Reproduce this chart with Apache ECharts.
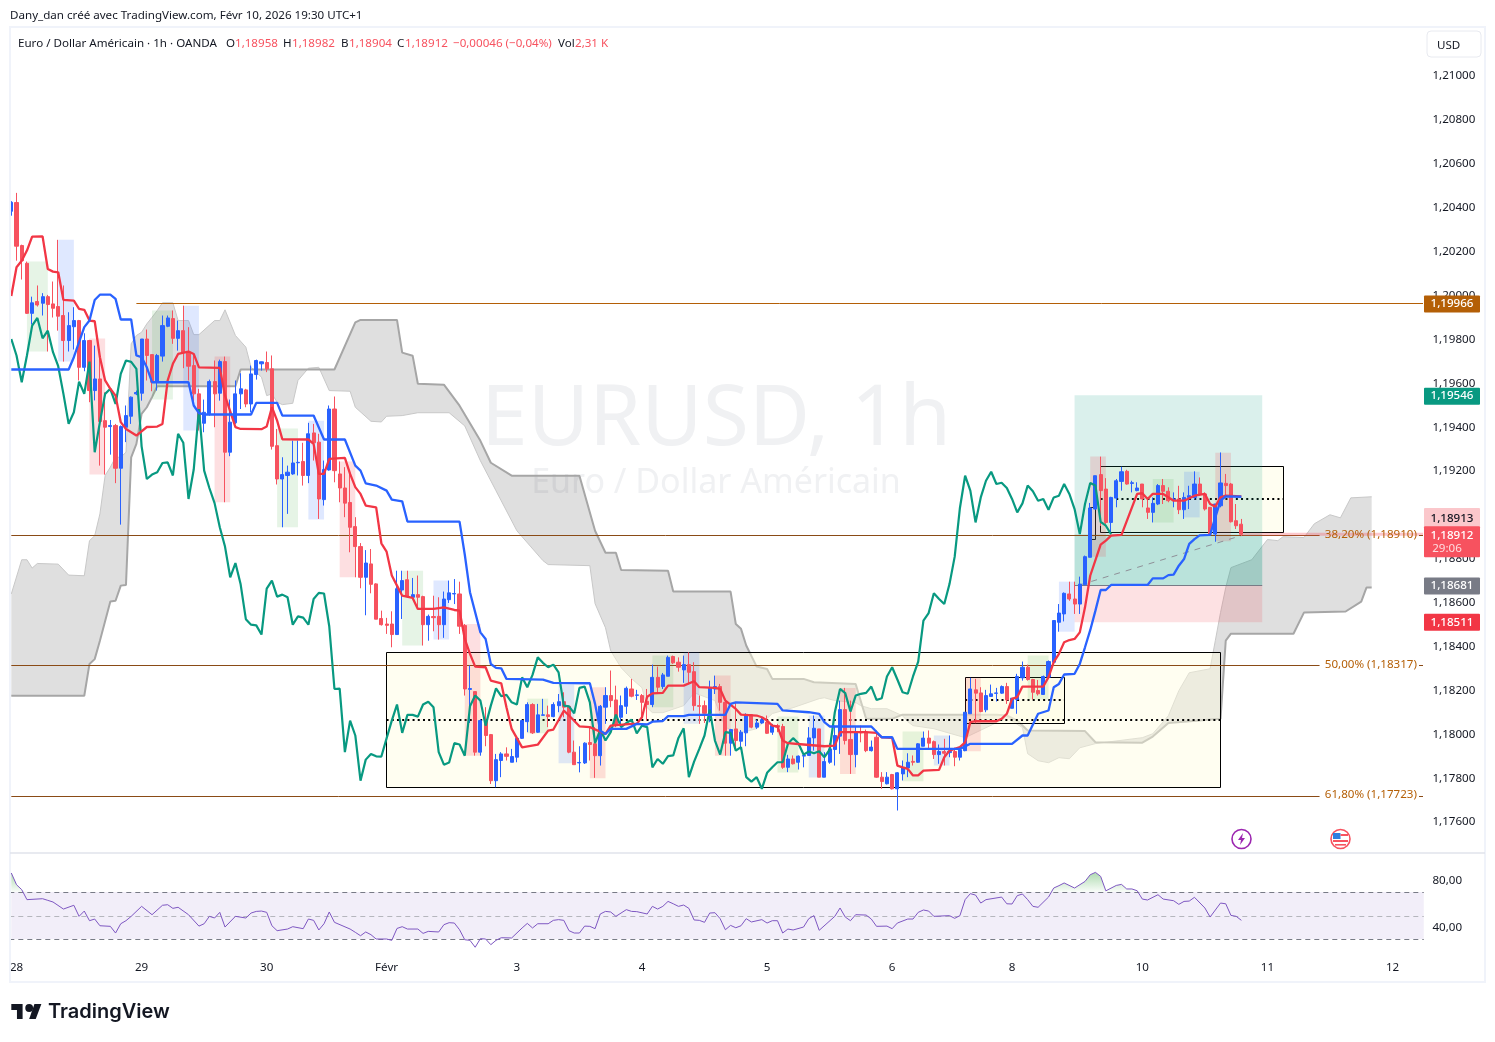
<!DOCTYPE html>
<html><head><meta charset="utf-8"><style>html,body{margin:0;padding:0;background:#fff}#c{width:1495px;height:1042px}</style>
<script src="https://cdn.jsdelivr.net/npm/echarts@6/dist/echarts.min.js"></script></head><body><div id="c"></div>
<script>
const opens=[1.20384,1.20424,1.20228,1.20147,1.19919,1.19973,1.19965,1.19995,1.19962,1.19950,
1.19909,1.19795,1.19858,1.19886,1.19673,1.19795,1.19567,1.19620,1.19430,1.19403,
1.19408,1.19213,1.19400,1.19450,1.19552,1.19555,1.19802,1.19731,1.19605,1.19724,
1.19860,1.19895,1.19805,1.19840,1.19742,1.19681,1.19552,1.19418,1.19461,1.19608,
1.19555,1.19699,1.19286,1.19420,1.19552,1.19570,1.19506,1.19640,1.19689,1.19695,
1.19666,1.19316,1.19164,1.19180,1.19187,1.19238,1.19244,1.19180,1.19374,1.19332,
1.19070,1.19205,1.19483,1.19187,1.19123,1.19057,1.18947,1.18856,1.18716,1.18777,
1.18686,1.18528,1.18503,1.18503,1.18455,1.18658,1.18705,1.18625,1.18637,1.18628,
1.18500,1.18537,1.18538,1.18500,1.18614,1.18640,1.18640,1.18496,1.18205,1.18195,
1.17919,1.18063,1.17999,1.17789,1.17881,1.17911,1.17873,1.17896,1.17982,1.18058,
1.18136,1.18010,1.18087,1.18089,1.18081,1.18131,1.18149,1.18128,1.17919,1.17870,
1.17870,1.17963,1.17957,1.17903,1.18124,1.18177,1.18157,1.18078,1.18128,1.18207,
1.18178,1.18177,1.18151,1.18136,1.18260,1.18218,1.18265,1.18355,1.18329,1.18294,
1.18318,1.18286,1.18131,1.18131,1.18096,1.18207,1.18218,1.18146,1.17960,1.18025,
1.17969,1.18007,1.18090,1.18033,1.18052,
1.18056,1.18010,1.18040,1.18036,1.17850,
1.17888,1.17873,1.17901,1.17904,1.17984,
1.18025,1.17805,1.17873,1.17931,1.17992,
1.18113,1.17977,1.17908,1.18013,1.18010,
1.17926,1.17987,1.17805,1.17775,1.17817,
1.17752,1.17820,1.17847,1.17877,1.17873,
1.17946,1.17983,1.17967,1.17908,1.17922,
1.17917,1.17922,1.17896,1.17926,1.18094,
1.18203,1.18189,1.18112,1.18173,1.18187,
1.18188,1.18218,1.18119,1.18159,1.18258,
1.18306,1.18250,1.18200,1.18182,1.18261,
1.18329,1.18511,1.18549,1.18640,1.18617,
1.18594,1.18682,1.18807,1.19027,1.19184,
1.19118,1.18966,1.19077,1.19153,1.19199,
1.19144,1.19111,1.19141,1.19032,1.19012,
1.19050,1.19134,1.19108,1.19070,1.19073,
1.19024,1.19080,1.19080,1.19141,1.19096,
1.19035,1.18913,1.19042,1.19144,1.19141,
1.18974,1.18958];
const closes=[1.20425,1.20225,1.20159,1.19919,1.19967,1.19957,1.19995,1.19959,1.19942,1.19906,
1.19795,1.19863,1.19886,1.19673,1.19795,1.19567,1.19620,1.19426,1.19400,1.19408,
1.19213,1.19403,1.19453,1.19537,1.19558,1.19802,1.19727,1.19605,1.19727,1.19863,
1.19898,1.19805,1.19840,1.19742,1.19678,1.19552,1.19415,1.19468,1.19608,1.19552,
1.19699,1.19286,1.19423,1.19552,1.19575,1.19506,1.19643,1.19704,1.19698,1.19666,
1.19313,1.19164,1.19184,1.19195,1.19237,1.19240,1.19180,1.19370,1.19329,1.19073,
1.19207,1.19483,1.19202,1.19123,1.19054,1.18944,1.18856,1.18716,1.18781,1.18684,
1.18525,1.18500,1.18497,1.18455,1.18664,1.18701,1.18628,1.18637,1.18625,1.18500,
1.18538,1.18532,1.18500,1.18617,1.18645,1.18642,1.18493,1.18207,1.18209,1.17919,
1.18063,1.17995,1.17789,1.17885,1.17911,1.17900,1.17899,1.17982,1.18063,1.18136,
1.18007,1.18089,1.18089,1.18081,1.18136,1.18149,1.18124,1.17919,1.17862,1.17872,
1.17960,1.17954,1.17903,1.18128,1.18177,1.18154,1.18040,1.18131,1.18210,1.18174,
1.18180,1.18146,1.18136,1.18260,1.18215,1.18271,1.18351,1.18326,1.18306,1.18318,
1.18283,1.18131,1.18128,1.18096,1.18212,1.18218,1.18146,1.17960,1.18022,1.17972,
1.18010,1.18090,1.18033,1.18052,1.18067,
1.18005,1.18040,1.18033,1.17850,1.17888,
1.17866,1.17901,1.17904,1.17984,1.18028,
1.17805,1.17876,1.17934,1.17995,1.18113,
1.17972,1.17908,1.18010,1.18007,1.17926,
1.17942,1.17805,1.17785,1.17805,1.17752,
1.17825,1.17850,1.17873,1.17873,1.17957,
1.17983,1.17960,1.17908,1.17922,1.17914,
1.17923,1.17896,1.17930,1.18101,1.18207,
1.18188,1.18104,1.18177,1.18185,1.18189,
1.18218,1.18157,1.18165,1.18264,1.18306,
1.18250,1.18192,1.18185,1.18264,1.18332,
1.18519,1.18553,1.18643,1.18617,1.18594,
1.18685,1.18810,1.19032,1.19179,1.19111,
1.18966,1.19080,1.19156,1.19197,1.19141,
1.19147,1.19123,1.19073,1.19012,1.19053,
1.19134,1.19108,1.19065,1.19073,1.19024,
1.19080,1.19088,1.19141,1.19096,1.19027,
1.18913,1.19050,1.19146,1.19134,1.18969,
1.18951,1.18912];
const highs=[1.20430,1.20468,1.20232,1.20155,1.19995,1.20046,1.20011,1.20003,1.20064,1.20254,
1.20046,1.19924,1.19947,1.19889,1.19828,1.19798,1.19772,1.19711,1.19559,1.19433,
1.19415,1.19408,1.19499,1.19540,1.19567,1.19802,1.19845,1.19731,1.19734,1.19909,
1.19909,1.19932,1.19886,1.19954,1.19856,1.19734,1.19575,1.19526,1.19617,1.19704,
1.19708,1.19722,1.19526,1.19613,1.19646,1.19575,1.19681,1.19708,1.19699,1.19745,
1.19727,1.19392,1.19263,1.19225,1.19339,1.19339,1.19329,1.19420,1.19415,1.19370,
1.19248,1.19499,1.19540,1.19244,1.19218,1.19187,1.18990,1.18872,1.18840,1.18845,
1.18689,1.18564,1.18531,1.18561,1.18746,1.18746,1.18746,1.18713,1.18724,1.18632,
1.18546,1.18632,1.18625,1.18651,1.18701,1.18708,1.18696,1.18503,1.18314,1.18195,
1.18070,1.18124,1.18002,1.17911,1.17919,1.17941,1.17934,1.17982,1.18066,1.18146,
1.18142,1.18139,1.18162,1.18131,1.18146,1.18184,1.18192,1.18131,1.17972,1.17946,
1.17964,1.18033,1.18033,1.18134,1.18215,1.18291,1.18222,1.18177,1.18218,1.18253,
1.18203,1.18184,1.18207,1.18318,1.18309,1.18280,1.18359,1.18359,1.18351,1.18359,
1.18374,1.18329,1.18177,1.18154,1.18245,1.18268,1.18230,1.18162,1.18025,1.18146,
1.18020,1.18096,1.18093,1.18067,1.18078,
1.18086,1.18048,1.18048,1.18048,1.17907,
1.17904,1.17904,1.17911,1.18033,1.18086,
1.18025,1.17919,1.17960,1.18040,1.18154,
1.18212,1.18154,1.18036,1.18040,1.18022,
1.17972,1.18018,1.17828,1.17828,1.17820,
1.17828,1.17881,1.17914,1.17904,1.17960,
1.18013,1.18018,1.17972,1.17954,1.17980,
1.17995,1.17939,1.17942,1.18101,1.18258,
1.18253,1.18215,1.18203,1.18227,1.18212,
1.18223,1.18235,1.18165,1.18276,1.18332,
1.18318,1.18253,1.18248,1.18268,1.18337,
1.18519,1.18594,1.18647,1.18696,1.18696,
1.18719,1.18815,1.19055,1.19179,1.19266,
1.19168,1.19083,1.19164,1.19220,1.19206,
1.19156,1.19149,1.19141,1.19080,1.19080,
1.19141,1.19164,1.19126,1.19103,1.19133,
1.19103,1.19133,1.19199,1.19171,1.19103,
1.19035,1.19050,1.19285,1.19187,1.19146,
1.19050,1.18982];
const lows=[1.20364,1.20159,1.20073,1.19916,1.19868,1.19950,1.19909,1.19745,1.19900,1.19840,
1.19699,1.19745,1.19754,1.19613,1.19655,1.19514,1.19522,1.19225,1.19184,1.19275,
1.19145,1.18956,1.19332,1.19415,1.19546,1.19521,1.19613,1.19564,1.19567,1.19699,
1.19856,1.19780,1.19749,1.19669,1.19613,1.19506,1.19385,1.19377,1.19453,1.19400,
1.19521,1.19058,1.19268,1.19415,1.19483,1.19491,1.19468,1.19617,1.19658,1.19651,
1.19298,1.19139,1.18944,1.19005,1.19183,1.19180,1.19134,1.19145,1.19248,1.18982,
1.19043,1.19202,1.19149,1.19058,1.18990,1.18830,1.18716,1.18666,1.18543,1.18643,
1.18525,1.18496,1.18458,1.18397,1.18455,1.18526,1.18622,1.18622,1.18579,1.18405,
1.18427,1.18470,1.18432,1.18440,1.18599,1.18594,1.18458,1.18177,1.18052,1.17903,
1.17903,1.17946,1.17774,1.17759,1.17805,1.17881,1.17873,1.17873,1.17979,1.18010,
1.18002,1.18007,1.18086,1.18033,1.18078,1.18101,1.18078,1.17914,1.17862,1.17827,
1.17865,1.17881,1.17802,1.17858,1.18048,1.18124,1.18033,1.18048,1.18093,1.18169,
1.18157,1.18070,1.18063,1.18124,1.18189,1.18207,1.18265,1.18321,1.18286,1.18235,
1.18230,1.18108,1.18048,1.18052,1.18055,1.18184,1.18108,1.17903,1.17903,1.17938,
1.17931,1.17946,1.18028,1.18025,1.18048,
1.18002,1.17998,1.18010,1.17843,1.17828,
1.17863,1.17840,1.17850,1.17904,1.17926,
1.17805,1.17805,1.17866,1.17858,1.17911,
1.17954,1.17820,1.17850,1.17964,1.17919,
1.17922,1.17802,1.17752,1.17772,1.17749,
1.17653,1.17790,1.17805,1.17858,1.17870,
1.17946,1.17934,1.17888,1.17866,1.17858,
1.17896,1.17855,1.17881,1.17923,1.18094,
1.18051,1.18101,1.18101,1.18173,1.18150,
1.18185,1.18139,1.18119,1.18094,1.18245,
1.18245,1.18159,1.18177,1.18180,1.18258,
1.18326,1.18468,1.18515,1.18609,1.18549,
1.18549,1.18681,1.18807,1.19025,1.18950,
1.18959,1.18921,1.19035,1.19111,1.19138,
1.19103,1.19108,1.19035,1.18982,1.18966,
1.19045,1.19050,1.19058,1.19035,1.19004,
1.18982,1.19027,1.19073,1.19088,1.19020,
1.18909,1.18878,1.19035,1.19088,1.18966,
1.18936,1.18904];

const tenkan=[[0,1.19998],[1,1.20129],[2,1.20159],[3,1.20205],[4,1.20269],[6,1.2027],[7,1.20121],[8,1.20109],[9,1.20106],[10,1.1998],[12,1.19977],[13,1.19939],[14,1.19935],[15,1.19886],[16,1.19883],[17,1.19719],[18,1.19613],[19,1.19575],[20,1.19544],[21,1.19423],[22,1.19392],[24,1.19362],[26,1.19401],[28,1.19403],[29,1.19415],[30,1.19613],[31,1.19689],[32,1.19734],[34,1.19745],[35,1.19734],[36,1.19673],[40,1.1967],[41,1.19544],[43,1.194],[44,1.19392],[48,1.19391],[49,1.19403],[50,1.19491],[51,1.1943],[52,1.19345],[57,1.19344],[58,1.19324],[59,1.19187],[60,1.19187],[61,1.19256],[64,1.1926],[65,1.19187],[66,1.19127],[67,1.19096],[68,1.19043],[70,1.19035],[71,1.18871],[72,1.18833],[73,1.18724],[74,1.18678],[75,1.18632],[77,1.18622],[78,1.18572],[81,1.18572],[83,1.18579],[85,1.18567],[86,1.18564],[87,1.18435],[88,1.18367],[89,1.18309],[91,1.18306],[92,1.18245],[94,1.18233],[95,1.18124],[96,1.18025],[98,1.17941],[101,1.17953],[103,1.18017],[104,1.18022],[106,1.18108],[107,1.18086],[109,1.18037],[111,1.18033],[114,1.18002],[115,1.1804],[119,1.18048],[120,1.18048],[121,1.18078],[122,1.18172],[123,1.18187],[125,1.18189],[126,1.18222],[129,1.18222],[131,1.18242],[132,1.18215],[135,1.18212],[136,1.18207],[137,1.18154],[139,1.18116],[140,1.1809],[143,1.18086],[144,1.18078],[145,1.18063],[146,1.1804],[147,1.18036],[148,1.17972],[149,1.1796],[152,1.17954],[156,1.17946],[158,1.17949],[159,1.1801],[162,1.1801],[164,1.1801],[166,1.18007],[167,1.17987],[169,1.17984],[170,1.17858],[171,1.1785],[172,1.17843],[173,1.17813],[174,1.17813],[175,1.17835],[178,1.17838],[179,1.17896],[180,1.17926],[182,1.17942],[183,1.17964],[184,1.18056],[185,1.1806],[189,1.1806],[190,1.18071],[191,1.18094],[192,1.18162],[193,1.1817],[194,1.18218],[198,1.18218],[199,1.18261],[200,1.18329],[201,1.18367],[202,1.1842],[203,1.1843],[204,1.18435],[205,1.18465],[206,1.18579],[207,1.18723],[209,1.18865],[210,1.18883],[211,1.18906],[213,1.18909],[216,1.19096],[217,1.19099],[218,1.19073],[219,1.19096],[221,1.19096],[223,1.19065],[225,1.19065],[227,1.19088],[229,1.19096],[230,1.1905],[231,1.19038],[232,1.1908],[233,1.19088],[236,1.19085]];
const kijun=[[0,1.19663],[11,1.19663],[12,1.19719],[14,1.19856],[15,1.19886],[16,1.1998],[17,1.20004],[19,1.20004],[20,1.19985],[21,1.19891],[23,1.19891],[24,1.19727],[25,1.19719],[26,1.19673],[27,1.19605],[34,1.19605],[35,1.19499],[36,1.19464],[37,1.19458],[46,1.19458],[47,1.19511],[51,1.19511],[52,1.19453],[58,1.19453],[60,1.19344],[64,1.19344],[66,1.19225],[67,1.19202],[68,1.19144],[70,1.19134],[72,1.19111],[73,1.1907],[75,1.19062],[76,1.1897],[86,1.1897],[87,1.1882],[88,1.18648],[90,1.18465],[91,1.18435],[92,1.18321],[93,1.18303],[94,1.18301],[95,1.18253],[102,1.1825],[104,1.18235],[111,1.18233],[112,1.18139],[113,1.18017],[114,1.18002],[115,1.18025],[118,1.18025],[120,1.18048],[122,1.18045],[123,1.18058],[125,1.18061],[126,1.18083],[129,1.18083],[130,1.18089],[137,1.18089],[138,1.18139],[139,1.18146],[147,1.18139],[148,1.18109],[153,1.18101],[155,1.18094],[156,1.18056],[157,1.18036],[165,1.18036],[167,1.17987],[169,1.17987],[170,1.17934],[182,1.17934],[184,1.17957],[192,1.17957],[194,1.17995],[195,1.17995],[197,1.18094],[199,1.18109],[200,1.18215],[201,1.1823],[202,1.18273],[204,1.18276],[205,1.18321],[206,1.18397],[207,1.18475],[208,1.18564],[209,1.18658],[210,1.18658],[211,1.18681],[218,1.18681],[219,1.18711],[221,1.18711],[222,1.18726],[223,1.18728],[224,1.18769],[225,1.18799],[226,1.18868],[227,1.1889],[228,1.18907],[230,1.18909],[231,1.18989],[232,1.19065],[233,1.19085],[236,1.19083]];
const spanA=[[0,1.1864],[2,1.18796],[3,1.18796],[4,1.18758],[5,1.18779],[9,1.18776],[11,1.18726],[14,1.18723],[15,1.18883],[16,1.18905],[17,1.19005],[18,1.1918],[19,1.19218],[20,1.19263],[21,1.19263],[22,1.19286],[23,1.1978],[24,1.19818],[25,1.19833],[26,1.19871],[27,1.19901],[28,1.19932],[29,1.19967],[31,1.19967],[32,1.19886],[34,1.19886],[35,1.19822],[36,1.19822],[39,1.19886],[40,1.19886],[41,1.19935],[43,1.19818],[45,1.19765],[46,1.19673],[48,1.19628],[49,1.19544],[50,1.19552],[51,1.19514],[52,1.19503],[54,1.19509],[55,1.19613],[57,1.19669],[59,1.19673],[61,1.19567],[65,1.19564],[66,1.19491],[69,1.19427],[71,1.19424],[72,1.1945],[75,1.19453],[78,1.19466],[84,1.19466],[87,1.19406],[90,1.19247],[93,1.1911],[97,1.18928],[102,1.18792],[103,1.18774],[111,1.18769],[112,1.18596],[114,1.18486],[115,1.18381],[117,1.18304],[119,1.18254],[121,1.18213],[122,1.18122],[123,1.18099],[125,1.18099],[129,1.18131],[131,1.1819],[135,1.18154],[137,1.18031],[140,1.18008],[143,1.18026],[146,1.18095],[150,1.18122],[155,1.18163],[156,1.18167],[158,1.18154],[162,1.18145],[163,1.18131],[165,1.18117],[168,1.18117],[171,1.18085],[172,1.18058],[173,1.1804],[177,1.18026],[183,1.17985],[191,1.18076],[194,1.18031],[195,1.17912],[197,1.1788],[199,1.17871],[201,1.17894],[203,1.17889],[205,1.17939],[208,1.17958],[217,1.17985],[219,1.18003],[222,1.18085],[224,1.18199],[226,1.18281],[230,1.18299],[231,1.18427],[232,1.18555],[233,1.18669],[234,1.1876],[238,1.18796],[241,1.18888],[243,1.18883],[244,1.18901],[248,1.18897],[250,1.1896],[253,1.19001],[255,1.18987],[257,1.19078],[261,1.19083]];
const spanB=[[0,1.18176],[14,1.18176],[15,1.18321],[16,1.18343],[17,1.18427],[19,1.18606],[20,1.18609],[21,1.18678],[22,1.18681],[23,1.19263],[24,1.19324],[25,1.19461],[26,1.19491],[27,1.19537],[28,1.19587],[43,1.19587],[44,1.19663],[62,1.19663],[66,1.19878],[67,1.19889],[74,1.19889],[75,1.1974],[77,1.19726],[78,1.19598],[83,1.19594],[86,1.19498],[90,1.19338],[92,1.19238],[96,1.19179],[109,1.19179],[112,1.18928],[114,1.18828],[116,1.18828],[117,1.18749],[126,1.18746],[127,1.18651],[138,1.18651],[139,1.18503],[140,1.18481],[141,1.18405],[143,1.18309],[145,1.18298],[146,1.18253],[152,1.18253],[154,1.18238],[162,1.1823],[164,1.18071],[169,1.18071],[171,1.1809],[189,1.1809],[191,1.18086],[193,1.18063],[195,1.18018],[206,1.18015],[208,1.17964],[217,1.17962],[219,1.1799],[222,1.18052],[232,1.18071],[233,1.18427],[234,1.18459],[246,1.18459],[248,1.18555],[256,1.1856],[259,1.18605],[260,1.18669],[261,1.18669]];
const rsi=[[0,86.2],[1,76.2],[2,72],[3,63.5],[6,64.3],[7,62.9],[8,61.5],[10,55.5],[12,58.7],[13,49.3],[14,53.8],[15,45.6],[16,47],[17,41.3],[19,40.8],[20,35.1],[21,43],[22,45.6],[23,49.3],[25,57.8],[27,50.7],[29,58.7],[30,59.2],[31,56.1],[32,57],[34,50.7],[36,41],[37,43],[38,49.3],[39,47.9],[40,52.7],[41,40.2],[43,49.3],[45,47.9],[46,52.1],[47,53.5],[48,53.8],[49,52.7],[50,41.3],[51,37.1],[53,38.5],[54,40.5],[56,38.8],[57,47],[58,45.9],[59,37.7],[60,43],[61,53],[62,44.2],[65,38.5],[66,35.7],[67,32.8],[68,36],[69,33.7],[70,30],[72,30],[73,28.9],[74,39],[75,40.5],[76,38.5],[78,38.5],[79,34.8],[80,36.5],[82,36],[83,42.2],[84,43.9],[85,43.6],[86,37.9],[87,29.4],[88,28.9],[89,23],[90,30.3],[91,30],[92,25.2],[93,28.9],[94,31.1],[96,30.9],[98,39.4],[99,43.3],[100,39.4],[101,43],[103,43],[104,45.9],[105,46.5],[106,45.9],[107,37.1],[108,35.1],[109,35.1],[110,41],[111,40.8],[112,38.8],[113,51.3],[114,53.5],[115,53],[116,49.3],[118,55],[119,53.5],[120,53.3],[122,51.3],[123,57.8],[124,55.5],[125,57.8],[126,62],[127,60],[128,57.8],[129,58.9],[130,56.1],[131,46.2],[132,45.9],[133,44.2],[134,52.1],[135,52.4],[136,47.3],[137,37.9],[138,41.6],[139,39.6],[140,41.3],[141,47.3],[142,44.5],[144,46.5],[145,43.6],[146,45.6],[147,45.6],[148,35.1],[149,38.5],[150,37.7],[152,40.2],[153,47.3],[154,49.9],[155,37.4],[158,49.3],[159,56.4],[160,48.7],[161,45.6],[162,50.7],[164,50.4],[165,47],[166,40.8],[168,41],[169,38.8],[170,43.6],[172,47],[173,47],[174,52.7],[175,54.7],[176,53.8],[177,49.3],[180,49.9],[181,47.6],[182,49.9],[183,63.5],[184,68.6],[185,67.4],[186,60.6],[187,63.5],[190,65.7],[191,60],[192,59.8],[193,66.9],[194,68.3],[195,63.5],[196,57.8],[197,57],[199,65.7],[200,73.4],[201,75.4],[202,77.7],[204,73.4],[206,79],[207,84.7],[208,86.7],[209,83.3],[210,71],[212,75.6],[213,76.5],[214,72.6],[215,72.6],[216,71.1],[217,64],[218,63.2],[220,67.7],[221,64],[223,62.6],[224,59.5],[225,62],[226,62.3],[227,65.5],[229,56.4],[230,48.7],[232,60.6],[233,60],[234,50.1],[235,49.3],[236,45.9]];
const rsiOverbought=[[[0,86.2],[1,76.2],[2,72],[3,70],[0,70]],[[199,70],[200,73.4],[201,75.4],[202,77.7],[204,73.4],[206,79],[207,84.7],[208,86.7],[209,83.3],[210,71],[212,75.6],[213,76.5],[214,72.6],[215,72.6],[216,71.1],[217,70]]];

const priceTicks=[1.21,1.208,1.206,1.204,1.202,1.2,1.198,1.196,1.194,1.192,1.19,1.188,1.186,1.184,1.182,1.18,1.178,1.176];
const rsiTicks=[80,40];
const rsiLevels=[70,50,30];
const dayIdx=[1,25,49,72,97,121,145,169,192,217,241,265];
const dayText=['28','29','30','Févr','3','4','5','6','8','10','11','12'];
const barSlots=272;

// drawings: first bar, last bar, top price, bottom price
const greenMarks=[[3,7,1.20155,1.19745],[27,31,1.19932,1.19526],[51,55,1.19394,1.18944],[75,79,1.18746,1.18405],[99,103,1.18163,1.18005],[123,127,1.18359,1.18124],[147,151,1.18081,1.17826],[171,175,1.18013,1.17787],[195,199,1.18359,1.18159],[219,223,1.19164,1.18966]];
const blueMarks=[[9,12,1.20254,1.19699],[33,36,1.19954,1.19385],[57,60,1.1943,1.18979],[81,84,1.18701,1.18433],[105,108,1.18227,1.17868],[129,132,1.18374,1.18048],[153,156,1.18086,1.17803],[177,180,1.17995,1.17858],[201,204,1.18696,1.18468],[225,228,1.19197,1.18989]];
const redMarks=[[15,18,1.19804,1.19184],[39,42,1.19722,1.19058],[63,66,1.19244,1.18716],[87,90,1.18503,1.17903],[111,114,1.18215,1.178],[135,138,1.18268,1.17903],[159,162,1.18212,1.17819],[183,186,1.18258,1.17923],[207,210,1.19266,1.1881],[231,234,1.19284,1.1888]];
const frames=[[72,232,1.18372,1.17757],[183,202,1.18258,1.18048],[209,244,1.1922,1.18922],[207,208,1.19032,1.1889]];
const frameMids=[[72,232,1.18067],[183,202,1.18158],[209,244,1.19074]];
const position={from:204,to:240,entry:1.18681,target:1.19546,stop:1.18511,last:1.18912};
const tradeLine=[[205,1.18681],[236,1.18906]];
const flatLines=[[24,271,1.19966,1],[0,251,1.1891,1],[0,251,1.18317,1],[0,251,1.17723,1]];
const fibLabels=[['38,20% (1,18910)',1.1891],['50,00% (1,18317)',1.18317],['61,80% (1,17723)',1.17723]];
const priceTags=[[1.19966,'1,19966','#b45f06','#fff',1],[1.19546,'1,19546','#089981','#fff',1],[1.18913,'1,18913','#fbc7cb','#131722',-15],[1.18681,'1,18681','#787b86','#fff',1],[1.18511,'1,18511','#f23645','#fff',0]];
const lastTag=[1.18912,'1,18912','29:06'];

const UI='"Noto Sans",sans-serif';
const FS='11.6px ';
const chart=echarts.init(document.getElementById('c'),null,{renderer:'canvas'});
const cats=Array.from({length:barSlots},(_,i)=>{const k=dayIdx.indexOf(i);return k>=0?dayText[k]:'';});
const axisHidden=(g)=>({type:'category',gridIndex:g,data:cats,show:false});
const fmt=v=>v.toFixed(5).replace('.',',');
const snap=v=>Math.floor(v+0.9)+0.5;

function customOn(z,n,render,grid){return {type:'custom',coordinateSystem:'cartesian2d',xAxisIndex:grid||0,yAxisIndex:grid||0,z:z,silent:true,data:Array.from({length:n},(_,i)=>[i,0]),renderItem:render,animation:false};}
function rectShape(api,a,b,p,q){const A=api.coord([a,p]),B=api.coord([b,q]);return {x:A[0],y:A[1],width:B[0]-A[0],height:B[1]-A[1]};}
function crispRect(api,a,b,p,q){const A=api.coord([a,p]),B=api.coord([b,q]);const x=Math.floor(A[0])+.5,y=Math.floor(A[1])+.5;return {x,y,width:Math.floor(B[0])+.5-x,height:Math.floor(B[1])+.5-y};}
const marksSeries=(list,color)=>customOn(3,list.length,(pr,api)=>{const m=list[pr.dataIndex];return {type:'rect',shape:rectShape(api,m[0],m[1],m[2],m[3]),style:{fill:color}};});
const poly=(api,pts)=>pts.map(p=>api.coord(p));

const series=[
 customOn(1,1,(pr,api)=>({type:'polygon',shape:{points:poly(api,spanA.concat(spanB.slice().reverse()))},style:{fill:'rgba(0,0,0,0.125)'}})),
 {type:'line',data:spanA,symbol:'none',z:1,silent:true,lineStyle:{color:'#c8c8c8',width:1}},
 {type:'line',data:spanB,symbol:'none',z:1,silent:true,lineStyle:{color:'#a6a6a6',width:2}},
 customOn(2,frames.length,(pr,api)=>{const m=frames[pr.dataIndex];return {type:'rect',shape:crispRect(api,m[0],m[1],m[2],m[3]),style:{fill:pr.dataIndex<3?'rgba(255,253,225,0.45)':'rgba(0,0,0,0)',stroke:'#000',lineWidth:1}};}),
 customOn(2,frameMids.length,(pr,api)=>{const m=frameMids[pr.dataIndex];const A=api.coord([m[0],m[2]]),B=api.coord([m[1],m[2]]);const y=Math.round(A[1]);return {type:'line',shape:{x1:A[0],y1:y,x2:B[0],y2:y},style:{stroke:'#000',lineWidth:2,lineDash:[2,3.2]}};}),
 customOn(3,1,(pr,api)=>{const P=position;return {type:'group',children:[
   {type:'rect',shape:rectShape(api,P.from,P.to,P.target,P.entry),style:{fill:'rgba(8,153,129,0.15)'}},
   {type:'rect',shape:rectShape(api,P.from,P.to,P.last,P.entry),style:{fill:'rgba(8,153,129,0.15)'}},
   {type:'rect',shape:rectShape(api,P.from,P.to,P.entry,P.stop),style:{fill:'rgba(242,54,69,0.15)'}},
   {type:'line',shape:(()=>{const A=api.coord([P.from,P.entry]),B=api.coord([P.to,P.entry]);const y=Math.round(A[1])+.5;return {x1:A[0],y1:y,x2:B[0],y2:y};})(),style:{stroke:'#787b86',lineWidth:1}},
   {type:'line',shape:(()=>{const A=api.coord(tradeLine[0]),B=api.coord(tradeLine[1]);return {x1:A[0],y1:A[1],x2:B[0],y2:B[1]};})(),style:{stroke:'#8f9098',lineWidth:1,lineDash:[6,6]}}
 ]};}),
 marksSeries(greenMarks,'rgba(76,175,80,0.14)'),
 marksSeries(blueMarks,'rgba(41,98,255,0.15)'),
 marksSeries(redMarks,'rgba(242,54,69,0.16)'),
 customOn(3,flatLines.length,(pr,api)=>{const m=flatLines[pr.dataIndex];const A=api.coord([m[0],m[2]]),B=api.coord([m[1],m[2]]);const y=snap(A[1]);return {type:'line',shape:{x1:A[0],y1:y,x2:pr.dataIndex==0?1423:B[0],y2:y},style:{stroke:pr.dataIndex==0?'#b45f06':'#8a4b16',lineWidth:m[3]}};}),
 customOn(3,1,(pr,api)=>{const A=api.coord([236,lastTag[0]]);return {type:'line',shape:{x1:A[0],y1:A[1],x2:1423,y2:A[1]},style:{stroke:'rgba(247,82,95,0.32)',lineWidth:3}};}),
 customOn(3,fibLabels.length,(pr,api)=>{const m=fibLabels[pr.dataIndex];const A=api.coord([252,m[1]]);return {type:'group',children:[
   {type:'text',style:{x:A[0],y:A[1],text:m[0],fill:'#b45f06',font:FS+UI,align:'left',verticalAlign:'middle'}},
   {type:'line',shape:{x1:1419,y1:snap(A[1]),x2:1423,y2:snap(A[1])},style:{stroke:'#8a4b16',lineWidth:1}}]};}),
 {type:'candlestick',data:opens.map((o,i)=>[o,closes[i],lows[i],highs[i]]),barWidth:3.6,z:4,silent:true,
  itemStyle:{color:'#2962ff',color0:'#f7525f',borderColor:'#2962ff',borderColor0:'#f7525f',borderWidth:1}},
 {type:'line',name:'Chikou',data:closes.slice(25).map((c,i)=>[i,c]),symbol:'none',z:5,silent:true,lineStyle:{color:'#089981',width:2.2}},
 {type:'line',name:'Tenkan',data:tenkan,symbol:'none',z:5,silent:true,lineStyle:{color:'#f23645',width:2.3}},
 {type:'line',name:'Kijun',data:kijun,symbol:'none',z:5,silent:true,lineStyle:{color:'#2962ff',width:2.3}},
 customOn(20,priceTags.length,(pr,api)=>{const m=priceTags[pr.dataIndex];const y=api.coord([0,m[0]])[1]+m[4];const extra=m[4]<0?2.5:0;return {type:'group',children:[
   {type:'rect',shape:{x:1424,y:y-8.5-extra,width:56,height:17+extra,r:1},style:{fill:m[2]}},
   {type:'text',style:{x:1452,y:y,text:m[1],fill:m[3],font:'500 '+FS+UI,align:'center',verticalAlign:'middle'}}]};}),
 customOn(21,1,(pr,api)=>{const y=api.coord([0,lastTag[0]])[1];return {type:'group',children:[
   {type:'rect',shape:{x:1424,y:y-8,width:56,height:31,r:1},style:{fill:'#f7525f'}},
   {type:'text',style:{x:1452,y:y+1,text:lastTag[1],fill:'#fff',font:'500 '+FS+UI,align:'center',verticalAlign:'middle'}},
   {type:'text',style:{x:1447,y:y+14,text:lastTag[2],fill:'#fff',font:FS+UI,align:'center',verticalAlign:'middle',opacity:.8}}]};}),
 // RSI pane
 customOn(1,1,(pr,api)=>({type:'rect',shape:rectShape(api,0,271,rsiLevels[0],rsiLevels[2]),style:{fill:'rgba(126,87,194,0.1)'}}),1),
 customOn(2,rsiLevels.length,(pr,api)=>{const v=rsiLevels[pr.dataIndex];const A=api.coord([0,v]),B=api.coord([271,v]);const y=Math.round(A[1])+.5;return {type:'line',shape:{x1:A[0]-2,y1:y,x2:B[0],y2:y},style:{stroke:v==50?'#b5b6bd':'#787b86',lineWidth:1,lineDash:[5,4]}};},1),
 customOn(2,rsiOverbought.length,(pr,api)=>({type:'polygon',shape:{points:poly(api,rsiOverbought[pr.dataIndex])},style:{fill:new echarts.graphic.LinearGradient(0,0,0,1,[{offset:0,color:'rgba(76,175,80,0.45)'},{offset:1,color:'rgba(76,175,80,0.03)'}])}}),1),
 {type:'line',name:'RSI',data:rsi,xAxisIndex:1,yAxisIndex:1,symbol:'none',z:5,silent:true,lineStyle:{color:'#7e57c2',width:1}}
];

const txt=(x,y,text,fill,font)=>({type:'text',z:100,silent:true,style:{x,y,text,fill,font:font||(FS+UI),verticalAlign:'middle'}});
const red='#f7525f',ink='#131722';
const lx=u=>10+(u-0.6)*0.94, ly=v=>1004+(v-6);
const graphic=[
 {type:'text',z:0,silent:true,style:{x:716,y:421,text:'EURUSD, 1h',fill:'#f0f1f3',font:'84px '+UI,align:'center',verticalAlign:'middle'}},
 {type:'text',z:0,silent:true,style:{x:716,y:483,text:'Euro / Dollar Américain',fill:'#f0f1f3',font:'34px '+UI,align:'center',verticalAlign:'middle'}},
 {type:'rect',z:90,silent:true,shape:{x:10,y:27,width:1475,height:955},style:{fill:'rgba(0,0,0,0)',stroke:'#f0f3fa',lineWidth:2}},
 {type:'line',z:90,silent:true,shape:{x1:10,y1:853,x2:1485,y2:853},style:{stroke:'#e0e3eb',lineWidth:1.5}},
 txt(10,16,'Dany_dan créé avec TradingView.com, Févr 10, 2026 19:30 UTC+1',ink),
 txt(18,43.5,'Euro / Dollar Américain · 1h · OANDA',ink),
 txt(226,43.5,'O',ink),txt(235,43.5,'1,18958',red),
 txt(283,43.5,'H',ink),txt(292,43.5,'1,18982',red),
 txt(341,43.5,'B',ink),txt(349,43.5,'1,18904',red),
 txt(397,43.5,'C',ink),txt(405,43.5,'1,18912',red),
 txt(453,43.5,'−0,00046 (−0,04%)',red),
 txt(558,43.5,'Vol',ink),txt(575,43.5,'2,31 K',red),
 {type:'rect',z:90,silent:true,shape:{x:1427,y:31,width:54,height:26,r:4},style:{fill:'#fff',stroke:'#e8eaf0',lineWidth:1}},
 txt(1437,45.5,'USD',ink),
 {type:'circle',z:90,silent:true,shape:{cx:1241.5,cy:839,r:9.5},style:{fill:'#fff',stroke:'#9c27b0',lineWidth:1.6}},
 {type:'polygon',z:91,silent:true,shape:{points:[[1243,833],[1238,840],[1241,840],[1240,845],[1245,838],[1242,838]]},style:{fill:'#9c27b0'}},
 {type:'circle',z:90,silent:true,shape:{cx:1340.5,cy:839,r:9.5},style:{fill:'#fff',stroke:'#f7525f',lineWidth:1.6}},
 {type:'rect',z:91,silent:true,shape:{x:1333,y:833,width:7.5,height:6},style:{fill:'#2f7fe0'}},
 {type:'rect',z:91,silent:true,shape:{x:1340.5,y:834,width:7.5,height:2},style:{fill:'#f7525f'}},
 {type:'rect',z:91,silent:true,shape:{x:1333,y:840,width:15,height:2},style:{fill:'#f7525f'}},
 {type:'rect',z:91,silent:true,shape:{x:1335,y:844,width:11,height:1.6},style:{fill:'#f7525f'}},
 {type:'polygon',z:90,silent:true,shape:{points:[[14,6],[2,6],[2,12],[8,12],[8,21],[14,21]].map(p=>[lx(p[0]),ly(p[1])])},style:{fill:ink}},
 {type:'polygon',z:90,silent:true,shape:{points:[[28,21],[21,21],[26.6,6],[34,6]].map(p=>[lx(p[0]),ly(p[1])])},style:{fill:ink}},
 {type:'circle',z:90,silent:true,shape:{cx:lx(21),cy:ly(10),r:3.9},style:{fill:ink}},
 txt(48,1012,'TradingView',ink,'600 20px Inter,sans-serif')
];

chart.setOption({
 animation:false,backgroundColor:'#fff',
 grid:[{left:8.7,top:27,width:1417.7,height:825},{left:8.7,top:853,width:1417.7,height:104},{left:8.7,top:957,width:1417.7,height:1}],
 xAxis:[axisHidden(0),axisHidden(1),{type:'category',gridIndex:2,data:cats,axisLine:{show:false},axisTick:{show:false},axisLabel:{show:true,interval:0,margin:4,color:ink,fontFamily:UI,fontSize:11.6,hideOverlap:false}}],
 yAxis:[
  {type:'value',gridIndex:0,position:'right',min:1.17464,max:1.21224,splitLine:{show:false},axisLine:{show:false},axisTick:{show:false},
   axisLabel:{customValues:priceTicks,margin:6,color:ink,fontFamily:UI,fontSize:11.6,padding:[1.5,0,0,0],formatter:fmt}},
  {type:'value',gridIndex:1,position:'right',min:14.7,max:103.2,splitLine:{show:false},axisLine:{show:false},axisTick:{show:false},
   axisLabel:{customValues:rsiTicks,margin:6,color:ink,fontFamily:UI,fontSize:11.6,formatter:v=>v.toFixed(2).replace('.',',')}},
  {type:'value',gridIndex:2,show:false}
 ],
 tooltip:{show:false},series,graphic
});
</script></body></html>
